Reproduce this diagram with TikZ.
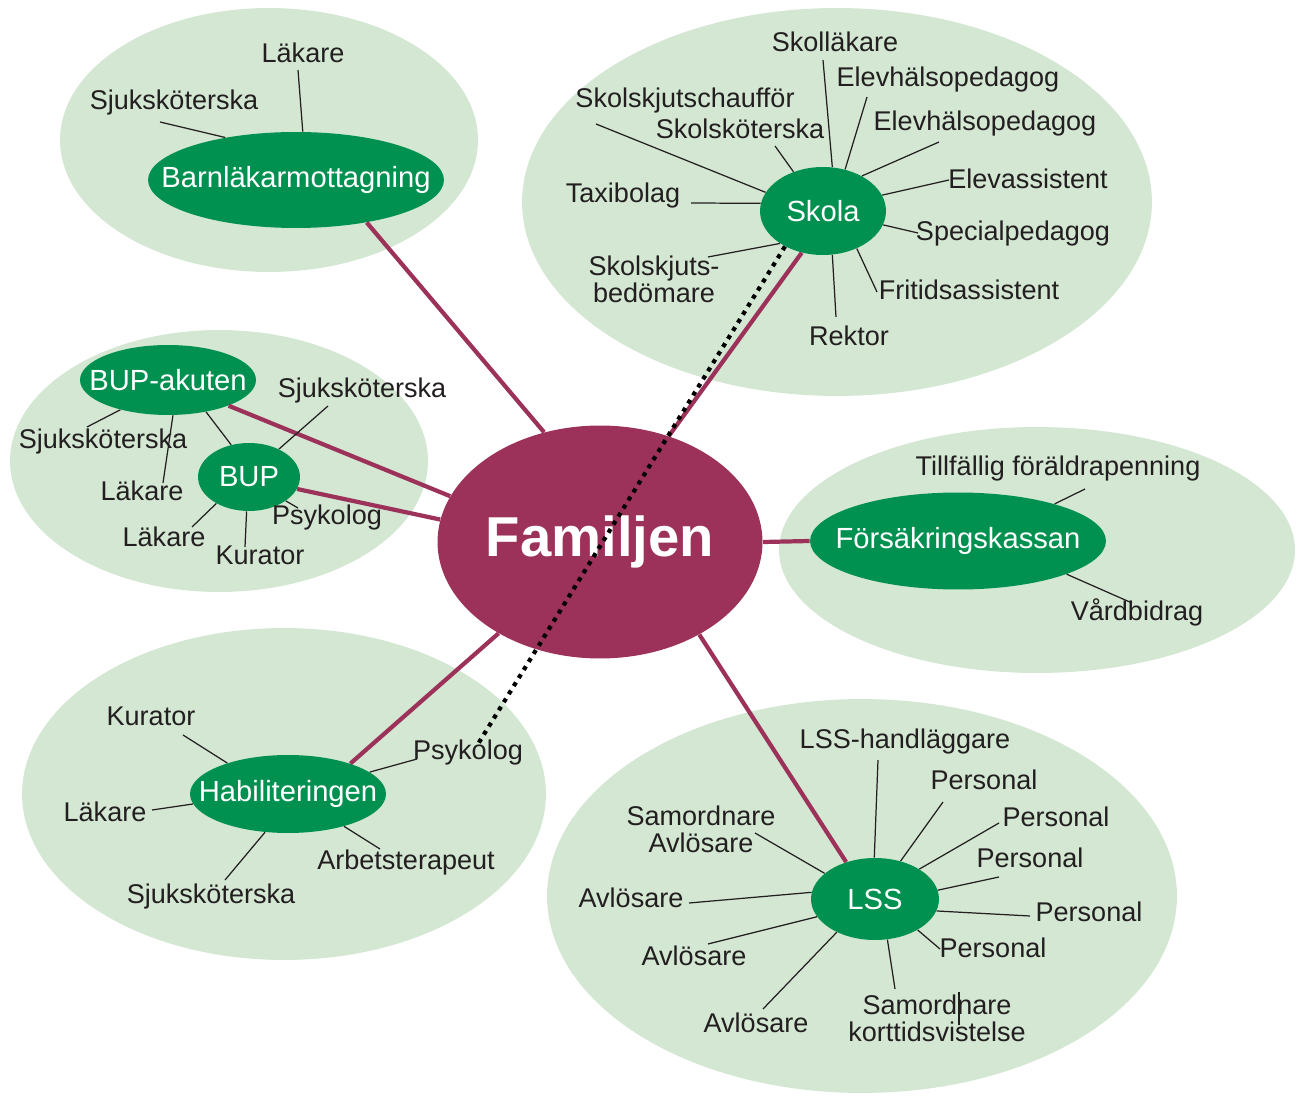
\documentclass[tikz,border=0pt]{standalone}
\usepackage{fontspec}
\setmainfont{Liberation Sans}
\usetikzlibrary{shapes.geometric}
\definecolor{bgg}{HTML}{D3E7D3}
\definecolor{dg}{HTML}{009150}
\definecolor{mr}{HTML}{9C325A}
\definecolor{tx}{HTML}{231F20}
\newcommand{\zw}[1]{\makebox[0pt][c]{#1}}
\begin{document}
\begin{tikzpicture}[x=0.02cm,y=-0.02cm,
  bgell/.style={ellipse, fill=bgg, inner sep=0pt},
  hub/.style={ellipse, fill=dg, inner sep=0pt, text=white, font=\fontsize{16.6}{18}\selectfont},
  famnode/.style={ellipse, fill=mr, inner sep=0pt, text=white, font=\fontsize{32}{34}\selectfont\bfseries},
  lbl/.style={text=tx, inner sep=0pt, font=\fontsize{15.4}{16}\selectfont, text height=0.72em, text depth=0.2em},
  lbltwo/.style={text=tx, inner sep=0pt, align=center, font=\fontsize{15.4}{15.2}\selectfont},
  leader/.style={draw=tx, line width=0.7pt},
  link/.style={draw=mr, line width=2.4pt},
  dots/.style={draw=black, line width=2.4pt, dash pattern=on 2.4pt off 3pt}]
\useasboundingbox (0,0) rectangle (1301,1097);

% background clusters
\node[bgell, minimum width=8.36cm, minimum height=5.28cm] (bgbarn) at (269,140) {};
\node[bgell, minimum width=12.6cm, minimum height=7.76cm] (bgskola) at (837,202) {};
\node[bgell, minimum width=8.36cm, minimum height=5.24cm] (bgbup) at (219,461) {};
\node[bgell, minimum width=10.32cm, minimum height=4.92cm] (bgfk) at (1037,550) {};
\node[bgell, minimum width=10.48cm, minimum height=6.64cm] (bghab) at (284,794) {};
\node[bgell, minimum width=12.6cm, minimum height=7.88cm] (bglss) at (862,896) {};

% hubs
\node[famnode, minimum width=6.5cm, minimum height=4.66cm] (fam) at (600,542) {\zw{Familjen}};
\node[hub, minimum width=5.92cm, minimum height=1.92cm] (barn) at (296,180) {\zw{Barnläkarmottagning}};
\node[hub, minimum width=2.52cm, minimum height=1.76cm] (skola) at (823,211) {\zw{Skola}};
\node[hub, minimum width=3.52cm, minimum height=1.40cm] (bupak) at (168,380) {\zw{BUP-akuten}};
\node[hub, minimum width=2.04cm, minimum height=1.36cm] (bup) at (249,477) {\zw{BUP}};
\node[hub, minimum width=5.92cm, minimum height=1.94cm] (fk) at (958,541) {\zw{Försäkringskassan}};
\node[hub, minimum width=3.92cm, minimum height=1.56cm] (hab) at (288,794) {\zw{Habiliteringen}};
\node[hub, minimum width=2.56cm, minimum height=1.64cm] (lss) at (875,899) {\zw{LSS}};

% links from Familjen
\draw[link] (fam.117) -- (barn.329);
\draw[link] (fam.57) -- (skola.243);
\draw[link] (fam.163.7) -- (bupak.337);
\draw[link] (fam.172.9) -- (bup.346);
\draw[link] (fam.east) -- (fk.west);
\draw[link] (fam.222.6) -- (hab.26.6);
\draw[link] (fam.317.4) -- (lss.128);

% Barnläkarmottagning labels
\node[lbl] (b1) at (303,58) {Läkare};
\node[lbl] (b2) at (174,105) {Sjuksköterska};
\coordinate (cb1) at (298,70);
\coordinate (cb2) at (160,122);
\draw[leader] (cb1) -- (barn.82);
\draw[leader] (cb2) -- (barn.149);

% Skola labels
\node[lbl] (s1) at (835,47) {Skolläkare};
\node[lbl] (s2) at (948,82) {Elevhälsopedagog};
\node[lbl] (s3) at (685,103) {Skolskjutschaufför};
\node[lbl] (s4) at (740,134) {Skolsköterska};
\node[lbl] (s5) at (985,126) {Elevhälsopedagog};
\node[lbl] (s6) at (1028,184) {Elevassistent};
\node[lbl] (s7) at (623,198) {Taxibolag};
\node[lbltwo] (s9) at (654,279) {Skolskjuts-\\bedömare};
\node[lbl] (s8) at (1013,236) {Specialpedagog};
\node[lbl] (s10) at (969,295) {Fritidsassistent};
\node[lbl] (s11) at (849,341) {Rektor};
\coordinate (cs1) at (823,60);
\coordinate (cs2) at (867,97);
\coordinate (cs3) at (596,124);
\coordinate (cs4) at (775,146);
\coordinate (cs5) at (939,142);
\coordinate (cs6) at (949,180);
\coordinate (cs7) at (691,203);
\coordinate (cs8) at (918,233);
\coordinate (cs9) at (708,257);
\coordinate (cs10) at (877,292);
\coordinate (cs11) at (836,317);
\draw[leader] (cs1) -- (skola.78);
\draw[leader] (cs2) -- (skola.62);
\draw[leader] (cs3) -- (skola.162);
\draw[leader] (cs4) -- (skola.127);
\draw[leader] (cs5) -- (skola.42);
\draw[leader] (cs6) -- (skola.15);
\draw[leader] (cs7) -- (skola.173);
\draw[leader] (cs8) -- (skola.347);
\draw[leader] (cs9) -- (skola.217);
\draw[leader] (cs10) -- (skola.312);
\draw[leader] (cs11) -- (skola.282);

% BUP labels
\node[lbl] (u1) at (362,393) {Sjuksköterska};
\node[lbl] (u2) at (103,444) {Sjuksköterska};
\node[lbl] (u3) at (142,496) {Läkare};
\node[lbl] (u4) at (327,520) {Psykolog};
\node[lbl] (u5) at (164,542) {Läkare};
\node[lbl] (u6) at (260,560) {Kurator};
\coordinate (cu1) at (328,406);
\coordinate (cu2) at (87,427);
\coordinate (cu3) at (163,483);
\coordinate (cu4) at (298,508);
\coordinate (cu5) at (192,527);
\coordinate (cu6) at (245,547);
\draw[leader] (bupak.320.5) -- (bup.119);
\draw[leader] (cu1) -- (bup.43);
\draw[leader] (cu2) -- (bupak.212);
\draw[leader] (cu3) -- (bupak.278);
\draw[leader] (cu4) -- (bup.327.4);
\draw[leader] (cu5) -- (bup.219);
\draw[leader] (cu6) -- (bup.266.5);

% Försäkringskassan labels
\node[lbl] (f1) at (1058,471) {Tillfällig föräldrapenning};
\node[lbl] (f2) at (1137,616) {Vårdbidrag};
\coordinate (cf1) at (1085,489);
\coordinate (cf2) at (1132,603);
\draw[leader] (cf1) -- (fk.21.8);
\draw[leader] (cf2) -- (fk.343);

% Habiliteringen labels
\node[lbl] (h1) at (151,721) {Kurator};
\node[lbl] (h2) at (468,755) {Psykolog};
\node[lbl] (h3) at (105,817) {Läkare};
\node[lbl] (h4) at (406,865) {Arbetsterapeut};
\node[lbl] (h5) at (211,899) {Sjuksköterska};
\coordinate (ch1) at (183,735);
\coordinate (ch2) at (417,759);
\coordinate (ch3) at (152,810);
\coordinate (ch4) at (380,849);
\coordinate (ch5) at (225,880);
\draw[leader] (ch1) -- (hab.153.4);
\draw[leader] (ch2) -- (hab.15.7);
\draw[leader] (ch3) -- (hab.186.6);
\draw[leader] (ch4) -- (hab.330.8);
\draw[leader] (ch5) -- (hab.239.5);

% LSS labels
\node[lbl] (l1) at (905,744) {LSS-handläggare};
\node[lbl] (l2) at (984,785) {Personal};
\node[lbl] (l3) at (1056,822) {Personal};
\node[lbltwo] (l4) at (701,829) {Samordnare\\Avlösare};
\node[lbl] (l5) at (1030,863) {Personal};
\node[lbl] (l6) at (631,903) {Avlösare};
\node[lbl] (l7) at (1089,917) {Personal};
\node[lbl] (l8) at (694,961) {Avlösare};
\node[lbl] (l9) at (993,953) {Personal};
\node[lbl] (l10) at (756,1028) {Avlösare};
\node[lbltwo] (l11) at (937,1018) {Samordnare\\korttidsvistelse};
\coordinate (cl1) at (878,760);
\coordinate (cl2) at (943,802);
\coordinate (cl3) at (999,823);
\coordinate (cl4) at (755,833);
\coordinate (cl5) at (999,877);
\coordinate (cl6) at (689,903);
\coordinate (cl7) at (1030,916);
\coordinate (cl8) at (708,944);
\coordinate (cl9) at (940,949);
\coordinate (cl10) at (763,1009);
\coordinate (cl11) at (895,989);
\draw[leader] (cl1) -- (lss.91.4);
\draw[leader] (cl2) -- (lss.56.6);
\draw[leader] (cl3) -- (lss.34.2);
\draw[leader] (cl4) -- (lss.153.4);
\draw[leader] (cl5) -- (lss.8);
\draw[leader] (cl6) -- (lss.174.6);
\draw[leader] (cl7) -- (lss.349);
\draw[leader] (cl8) -- (lss.197.2);
\draw[leader] (cl9) -- (lss.324);
\draw[leader] (cl10) -- (lss.221.8);
\draw[leader] (cl11) -- (lss.287);
\coordinate (st1) at (959,992);
\coordinate (st2) at (959,1025);
\draw[leader] (st1) -- (st2);

% dotted connection
\coordinate (dotend) at (478,744);
\draw[dots] (skola.223) -- (dotend);
\end{tikzpicture}
\end{document}
